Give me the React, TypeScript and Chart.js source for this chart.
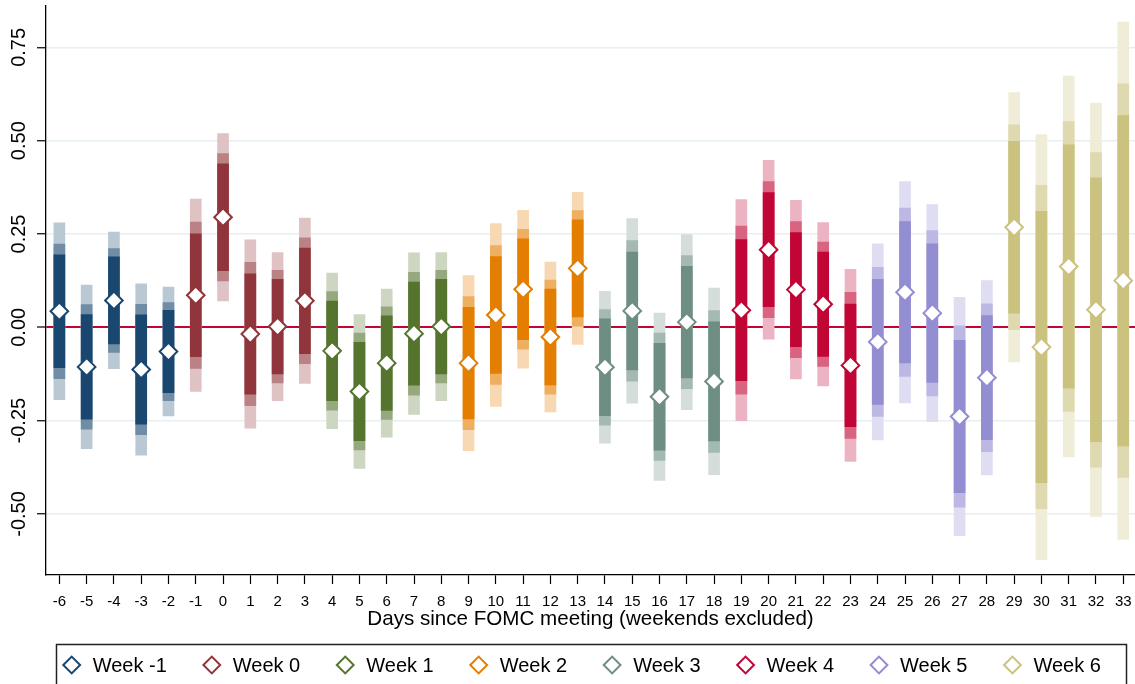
import React, { useEffect, useRef } from "react";
import { Chart, registerables } from "chart.js";

Chart.register(...registerables);

// ---------- data ----------
const days = [-6, -5, -4, -3, -2, -1, 0, 1, 2, 3, 4, 5, 6, 7, 8, 9, 10, 11, 12, 13, 14, 15, 16, 17, 18, 19, 20, 21, 22, 23, 24, 25, 26, 27, 28, 29, 30, 31, 32, 33];
const weekOfDay = [0, 0, 0, 0, 0, 1, 1, 1, 1, 1, 2, 2, 2, 2, 2, 3, 3, 3, 3, 3, 4, 4, 4, 4, 4, 5, 5, 5, 5, 5, 6, 6, 6, 6, 6, 7, 7, 7, 7, 7];
const estimates = [0.043, -0.106, 0.072, -0.113, -0.065, 0.086, 0.295, -0.018, 0.002, 0.071, -0.063, -0.172, -0.096, -0.017, 0.002, -0.096, 0.033, 0.102, -0.026, 0.158, -0.107, 0.044, -0.186, 0.014, -0.145, 0.046, 0.208, 0.101, 0.062, -0.102, -0.039, 0.094, 0.038, -0.239, -0.135, 0.268, -0.053, 0.163, 0.047, 0.125];
const stdErrors = [0.092, 0.085, 0.071, 0.089, 0.067, 0.1, 0.087, 0.098, 0.077, 0.086, 0.081, 0.08, 0.077, 0.084, 0.077, 0.091, 0.095, 0.082, 0.078, 0.079, 0.079, 0.096, 0.087, 0.091, 0.097, 0.115, 0.093, 0.093, 0.085, 0.1, 0.102, 0.115, 0.113, 0.124, 0.101, 0.14, 0.221, 0.198, 0.215, 0.269];
const ciZ = [1.645, 1.96, 2.576]; // 90%, 95%, 99% intervals
const weekLabels = ["Week -1", "Week 0", "Week 1", "Week 2", "Week 3", "Week 4", "Week 5", "Week 6"];
const yTickValues = [-0.5, -0.25, 0, 0.25, 0.5, 0.75];
const yTickLabels = ["-0.50", "-0.25", "0.00", "0.25", "0.50", "0.75"];
const xTickLabels = ["-6", "-5", "-4", "-3", "-2", "-1", "0", "1", "2", "3", "4", "5", "6", "7", "8", "9", "10", "11", "12", "13", "14", "15", "16", "17", "18", "19", "20", "21", "22", "23", "24", "25", "26", "27", "28", "29", "30", "31", "32", "33"];
const xTitle = "Days since FOMC meeting (weekends excluded)";

// ---------- styles ----------
const weekColors = ["#1a476f", "#90353b", "#55752f", "#e37e00", "#6e8e84", "#c10534", "#938dd2", "#cac27e"];
const bandShade = [1, 0.62, 0.3];
const FONT = "'Liberation Sans', Arial, Helvetica, sans-serif";

function blend(hex: string, a: number): string {
  const r = parseInt(hex.slice(1, 3), 16);
  const g = parseInt(hex.slice(3, 5), 16);
  const b = parseInt(hex.slice(5, 7), 16);
  const m = (c: number) => Math.round(c * a + 255 * (1 - a));
  return `rgb(${m(r)},${m(g)},${m(b)})`;
}

const legendPlugin = {
  id: "boxLegend",
  afterDraw(chart: any) {
    const c = chart.ctx as CanvasRenderingContext2D;
    c.save();
    c.strokeStyle = "#222";
    c.lineWidth = 1.5;
    c.strokeRect(56.5, 644.5, 1070, 50);
    c.font = `20px ${FONT}`;
    c.textBaseline = "middle";
    c.textAlign = "left";
    let cx = 71.7;
    const cy = 665;
    const r = 8.4;
    weekLabels.forEach((lab, i) => {
      c.beginPath();
      c.moveTo(cx - r, cy);
      c.lineTo(cx, cy - r);
      c.lineTo(cx + r, cy);
      c.lineTo(cx, cy + r);
      c.closePath();
      c.fillStyle = "#fff";
      c.fill();
      c.strokeStyle = weekColors[i];
      c.lineWidth = 2;
      c.stroke();
      c.fillStyle = "#000";
      c.fillText(lab, cx + 21, cy + 1);
      cx += 21 + c.measureText(lab).width + 45;
    });
    c.restore();
  },
};

export default function App() {
  const ref = useRef<HTMLCanvasElement>(null);

  useEffect(() => {
    document.body.style.margin = "0";
    const canvas = ref.current;
    if (!canvas) return;

    const pointColors = days.map((_, i) => weekColors[weekOfDay[i]]);

    const bandDatasets = ciZ.map((z, k) => ({
      type: "bar" as const,
      label: `band${k}`,
      data: days.map((d, i) => ({ x: d, y: [estimates[i] - z * stdErrors[i], estimates[i] + z * stdErrors[i]] })),
      backgroundColor: days.map((_, i) => blend(weekColors[weekOfDay[i]], bandShade[k])),
      borderWidth: 0,
      barThickness: 11,
      grouped: false,
    }));

    const chart = new Chart(canvas, {
      type: "bar",
      data: {
        datasets: [
          {
            type: "scatter",
            label: "estimate",
            data: days.map((d, i) => ({ x: d, y: estimates[i] })),
            pointStyle: "rectRot",
            pointRadius: 8.8,
            pointBorderWidth: 2,
            pointBackgroundColor: "#ffffff",
            pointBorderColor: pointColors,
            showLine: false,
          } as any,
          ...bandDatasets,
        ],
      },
      options: {
        animation: false,
        responsive: false,
        maintainAspectRatio: false,
        layout: { autoPadding: false, padding: { top: 6, right: 0, bottom: 49, left: 0 } },
        plugins: {
          legend: { display: false },
          tooltip: { enabled: false },
        },
        scales: {
          x: {
            type: "linear",
            min: -6.49,
            max: 33.43,
            offset: false,
            afterBuildTicks: (s: any) => {
              s.ticks = days.map((v) => ({ value: v }));
            },
            afterFit: (s: any) => {
              s.height = 60;
              s.paddingLeft = 0;
              s.paddingRight = 0;
              s.paddingTop = 0;
              s.paddingBottom = 0;
            },
            ticks: {
              autoSkip: false,
              maxRotation: 0,
              minRotation: 0,
              padding: 3,
              color: "#000",
              font: { family: FONT, size: 15, lineHeight: 2 },
              callback: (_v: any, i: number) => xTickLabels[i],
            },
            grid: {
              drawOnChartArea: false,
              drawTicks: true,
              tickLength: 9,
              tickColor: "#000",
              tickWidth: 1.2,
              offset: false,
            },
            border: { display: true, color: "#000", width: 1.3 },
            title: {
              display: true,
              text: xTitle,
              color: "#000",
              font: { family: FONT, size: 20.6 },
              padding: { top: 0, bottom: 3 },
            },
          },
          y: {
            type: "linear",
            min: -0.6636,
            max: 0.8609,
            afterBuildTicks: (s: any) => {
              s.ticks = yTickValues.map((v) => ({ value: v }));
            },
            afterFit: (s: any) => {
              s.width = 46;
              s.paddingLeft = 0;
              s.paddingRight = 0;
              s.paddingTop = 0;
              s.paddingBottom = 0;
            },
            ticks: {
              minRotation: 90,
              maxRotation: 90,
              crossAlign: "center",
              padding: -5,
              color: "#000",
              font: { family: FONT, size: 20, lineHeight: 1 },
              callback: (_v: any, i: number) => yTickLabels[i],
            },
            grid: {
              color: (c: any) => (c.tick && c.tick.value === 0 ? "#c10534" : "#e8eff2"),
              lineWidth: (c: any) => (c.tick && c.tick.value === 0 ? 2 : 1.5),
              tickColor: "#000",
              tickLength: 9,
              tickWidth: 1.2,
            },
            border: { display: true, color: "#000", width: 1.3 },
          },
        },
      } as any,
      plugins: [legendPlugin],
    });

    return () => chart.destroy();
  }, []);

  return (
    <div style={{ position: "absolute", left: 0, top: 0, width: 1135, height: 684, background: "#fff" }}>
      <canvas ref={ref} width={1135} height={684} style={{ width: 1135, height: 684, display: "block" }} />
    </div>
  );
}
